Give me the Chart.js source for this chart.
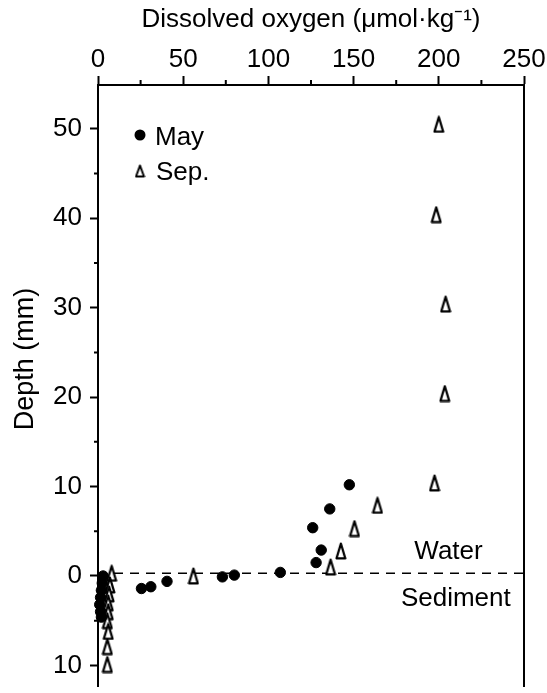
<!DOCTYPE html>
<html>
<head>
<meta charset="utf-8">
<script src="https://cdn.jsdelivr.net/npm/chart.js@4.4.0/dist/chart.umd.min.js"></script>
<style>
  html, body { margin: 0; padding: 0; background: #fff; }
  #wrap { width: 547px; height: 693px; position: relative; }
</style>
</head>
<body>
<div id="wrap"><canvas id="chart"></canvas></div>
<script>
// Dissolved oxygen (umol/kg) against depth (mm); negative depth = below the sediment surface
const mayOxygen = [147.5, 136, 126, 131, 128, 107, 80, 73, 40.5, 31, 25.5, 3, 2.5, 2, 1.5, 1, 1.5, 2];
const mayDepth  = [10.2, 7.5, 5.4, 2.9, 1.5, 0.4, 0.1, -0.1, -0.6, -1.2, -1.4, 0, -0.8, -1.6, -2.4, -3.2, -4.0, -4.6];
const sepOxygen = [200, 198.5, 204, 203.5, 197.5, 164, 150.5, 142.5, 136.5, 56, 8, 7, 6.5, 6, 6, 5.5, 6, 5.5, 5.5];
const sepDepth  = [50.5, 40.4, 30.4, 20.4, 10.4, 7.9, 5.3, 2.8, 1.0, 0, 0.3, -1, -2, -3, -4, -5, -6.2, -7.9, -9.9];
// sediment-water interface
const interfaceOxygen = [0, 250];
const interfaceDepth = [0.3, 0.3];

const xTicks = [0, 50, 100, 150, 200, 250];
const xMinor = [25, 75, 125, 175, 225];
const yTicks = [50, 40, 30, 20, 10, 0, -10];
const yMinor = [45, 35, 25, 15, 5, -5];

const FONT = "'Liberation Sans', Arial, sans-serif";
Chart.defaults.font.family = FONT;
Chart.defaults.font.size = 26;
Chart.defaults.color = '#000';

function makeTriangle(w, h, lw) {
    const c = document.createElement('canvas');
    c.width = w; c.height = h;
    const g = c.getContext('2d');
    const m = lw / 2 + 0.5;
    g.beginPath();
    g.moveTo(w / 2, m);
    g.lineTo(m, h - m);
    g.lineTo(w - m, h - m);
    g.closePath();
    g.fillStyle = '#fff';
    g.fill();
    g.lineJoin = 'round';
    g.lineWidth = lw;
    g.strokeStyle = '#000';
    g.stroke();
    return c;
}
const triData = makeTriangle(12, 18, 2.2);
const triLegend = makeTriangle(11, 14, 2);

const points = (xs, ys) => xs.map((x, i) => ({ x: x, y: ys[i] }));

// minor ticks, legend and text labels
const annotate = {
    id: 'annotate',
    beforeDatasetsDraw(chart) {
        const { ctx, chartArea, scales } = chart;
        ctx.save();
        ctx.strokeStyle = '#000';
        ctx.lineWidth = 2;
        ctx.beginPath();
        xMinor.forEach(v => {
            const px = scales.x.getPixelForValue(v);
            ctx.moveTo(px, chartArea.top);
            ctx.lineTo(px, chartArea.top - 5);
        });
        yMinor.forEach(v => {
            const py = scales.y.getPixelForValue(v);
            ctx.moveTo(chartArea.left, py);
            ctx.lineTo(chartArea.left - 4, py);
        });
        ctx.stroke();
        ctx.restore();
    },
    afterDraw(chart) {
        const { ctx, chartArea, scales } = chart;
        const L = chartArea.left, T = chartArea.top;
        ctx.save();
        ctx.fillStyle = '#000';
        ctx.font = '26px ' + FONT;
        ctx.textBaseline = 'alphabetic';

        // legend
        ctx.beginPath();
        ctx.arc(L + 42, T + 50, 5.5, 0, Math.PI * 2);
        ctx.fill();
        ctx.drawImage(triLegend, L + 42 - triLegend.width / 2, T + 86 - triLegend.height / 2);
        ctx.textAlign = 'left';
        ctx.fillText('May', L + 57, T + 60);
        ctx.fillText('Sep.', L + 58, T + 95);

        // zone labels
        ctx.textAlign = 'center';
        ctx.fillText('Water', scales.x.getPixelForValue(205.7), scales.y.getPixelForValue(1.9));
        ctx.fillText('Sediment', scales.x.getPixelForValue(210), scales.y.getPixelForValue(-3.4));

        // y axis title
        ctx.font = '27px ' + FONT;
        ctx.translate(L - 65, 359);
        ctx.rotate(-Math.PI / 2);
        ctx.fillText('Depth (mm)', 0, 0);
        ctx.restore();
    }
};

new Chart(document.getElementById('chart'), {
    type: 'scatter',
    data: {
        datasets: [
            {
                label: 'May',
                data: points(mayOxygen, mayDepth),
                pointStyle: 'circle',
                pointRadius: 5.2,
                borderWidth: 1,
                backgroundColor: '#000',
                borderColor: '#000',
                clip: false
            },
            {
                label: 'Sep.',
                data: points(sepOxygen, sepDepth),
                pointStyle: triData,
                pointRadius: 6,
                clip: false
            },
            {
                type: 'line',
                label: 'interface',
                data: points(interfaceOxygen, interfaceDepth),
                borderColor: '#000',
                borderWidth: 1.6,
                borderDash: [9, 7],
                pointRadius: 0,
                fill: false
            }
        ]
    },
    options: {
        responsive: true,
        maintainAspectRatio: false,
        animation: false,
        layout: { padding: { left: 0, top: 0, right: 23, bottom: 0 } },
        plugins: { legend: { display: false }, tooltip: { enabled: false } },
        scales: {
            x: {
                type: 'linear',
                position: 'top',
                min: 0,
                max: 250,
                afterBuildTicks: s => { s.ticks = xTicks.map(v => ({ value: v })); },
                ticks: { padding: 1, color: '#000' },
                grid: { drawOnChartArea: false, tickLength: 9, tickWidth: 2, tickColor: '#000' },
                border: { display: true, color: '#000', width: 2 },
                title: {
                    display: true,
                    text: 'Dissolved oxygen (\u03bcmol\u00b7kg\u207b\u00b9)',
                    color: '#000',
                    padding: { top: 4, bottom: 0 }
                },
                afterFit: s => { s.height = 85; s.paddingLeft = 0; s.paddingRight = 0; }
            },
            y: {
                type: 'linear',
                position: 'left',
                min: -12.3,
                max: 54.9,
                afterBuildTicks: s => { s.ticks = yTicks.map(v => ({ value: v })); },
                ticks: { padding: 8, color: '#000', callback: v => Math.abs(v) },
                grid: { drawOnChartArea: false, tickLength: 8, tickWidth: 2, tickColor: '#000' },
                border: { display: true, color: '#000', width: 2 },
                afterFit: s => { s.width = 98; s.paddingTop = 0; s.paddingBottom = 0; }
            },
            yRight: {
                type: 'linear',
                position: 'right',
                ticks: { display: false },
                grid: { display: false },
                border: { display: true, color: '#000', width: 2 },
                afterFit: s => { s.width = 0; s.paddingTop = 0; s.paddingBottom = 0; }
            }
        }
    },
    plugins: [annotate]
});
</script>
</body>
</html>
